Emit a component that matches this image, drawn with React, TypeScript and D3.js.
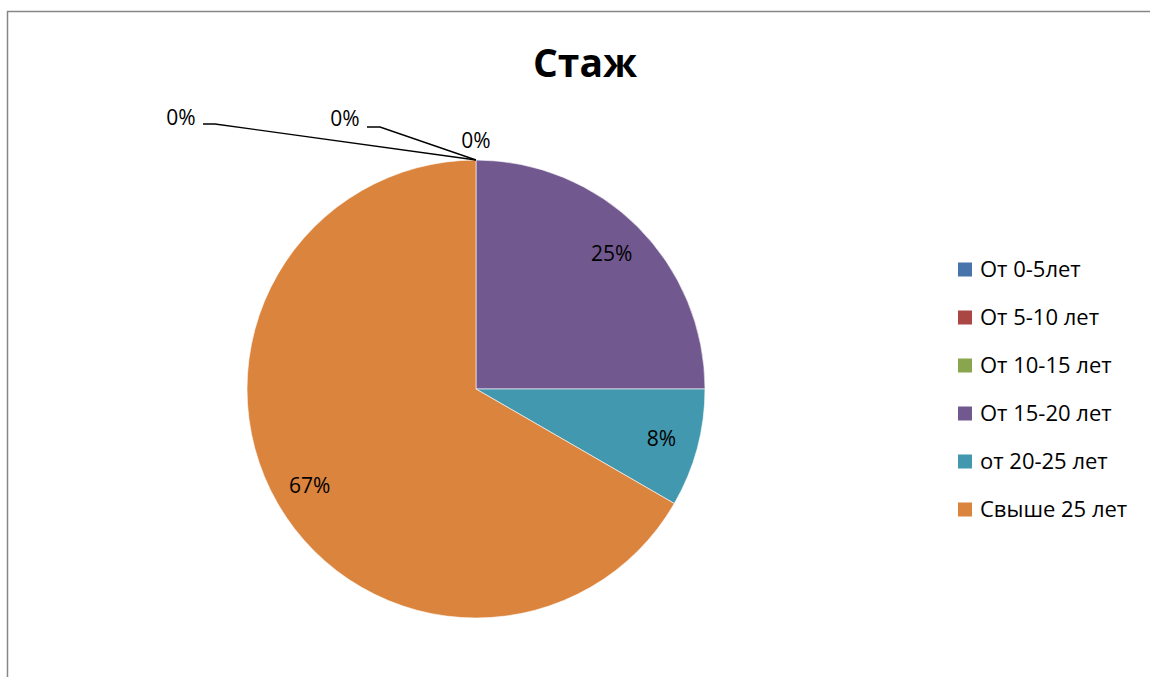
import React from "react";
import * as d3 from "d3";

const categories = ["От 0-5лет", "От 5-10 лет", "От 10-15 лет", "От 15-20 лет", "от 20-25 лет", "Свыше 25 лет"];
const values = [0, 0, 0, 3, 1, 8];
const colors = ["#4674AB", "#AA4643", "#89A54E", "#71588F", "#4198AF", "#DB843D"];
const title = "Стаж";

const W = 1150;
const H = 677;
const FONT = "'Open Sans', 'Liberation Sans', sans-serif";

// layout for labels of zero slices (offsets from slice anchor on the rim)
const zeroLabelLayout = [
  { dx: -295, dy: -35, elbow: [-273, -36, -261, -36] },
  { dx: -131, dy: -34, elbow: [-109, -33, -96, -33] },
  { dx: 0, dy: -12, elbow: null },
];

export default function App() {
  const cx = 476;
  const cy = 389;
  const r = 229;
  const total = d3.sum(values);
  const pie = d3.pie<number>().sort(null).startAngle(0).endAngle(2 * Math.PI).value((d) => d);
  const arcs = pie(values);
  const arcGen = d3.arc<d3.PieArcDatum<number>>().innerRadius(0).outerRadius(r);
  const labelArc = d3.arc<d3.PieArcDatum<number>>().innerRadius(192).outerRadius(192);
  const fmt = (v: number) => `${Math.round((v / total) * 100)}%`;

  let zi = 0;
  const legendY0 = 277;
  const legendStep = 48;

  return (
    <svg width={W} height={H} style={{ position: "absolute", left: 0, top: 0, background: "#fff" }}>
      <rect x={7.5} y={11.5} width={W + 20} height={H + 20} fill="#fff" stroke="#868686" strokeWidth={1.5} />
      <text x={585} y={77} textAnchor="middle" fontFamily={FONT} fontWeight="bold" fontSize={39} fill="#000">
        {title}
      </text>
      <g transform={`translate(${cx},${cy})`}>
        {arcs.map((a, i) => (
          <path key={i} d={arcGen(a) || ""} fill={colors[i]} stroke="#fff" strokeWidth={values[i] > 0 ? 0.6 : 0} />
        ))}
        {arcs.map((a, i) => {
          if (values[i] > 0) {
            const [lx, ly] = labelArc.centroid(a);
            return (
              <text key={"l" + i} x={lx} y={ly} dy="0.36em" textAnchor="middle" fontFamily={FONT} fontSize={21} fill="#000">
                {fmt(values[i])}
              </text>
            );
          }
          const ang = a.startAngle;
          const ax = r * Math.sin(ang);
          const ay = -r * Math.cos(ang);
          const lay = zeroLabelLayout[zi++];
          return (
            <g key={"z" + i}>
              {lay.elbow && (
                <polyline
                  points={`${ax + lay.elbow[0]},${ay + lay.elbow[1]} ${ax + lay.elbow[2]},${ay + lay.elbow[3]} ${ax},${ay}`}
                  fill="none"
                  stroke="#000"
                  strokeWidth={1.4}
                />
              )}
              <text x={ax + lay.dx} y={ay + lay.dy} textAnchor="middle" fontFamily={FONT} fontSize={21} fill="#000">
                {fmt(values[i])}
              </text>
            </g>
          );
        })}
      </g>
      <g>
        {categories.map((c, i) => (
          <g key={c} transform={`translate(958,${legendY0 + i * legendStep})`}>
            <rect x={0} y={-14.5} width={14} height={14} fill={colors[i]} />
            <text x={22} y={0} fontFamily={FONT} fontSize={22} fill="#000" textLength={undefined}>
              {c}
            </text>
          </g>
        ))}
      </g>
    </svg>
  );
}
